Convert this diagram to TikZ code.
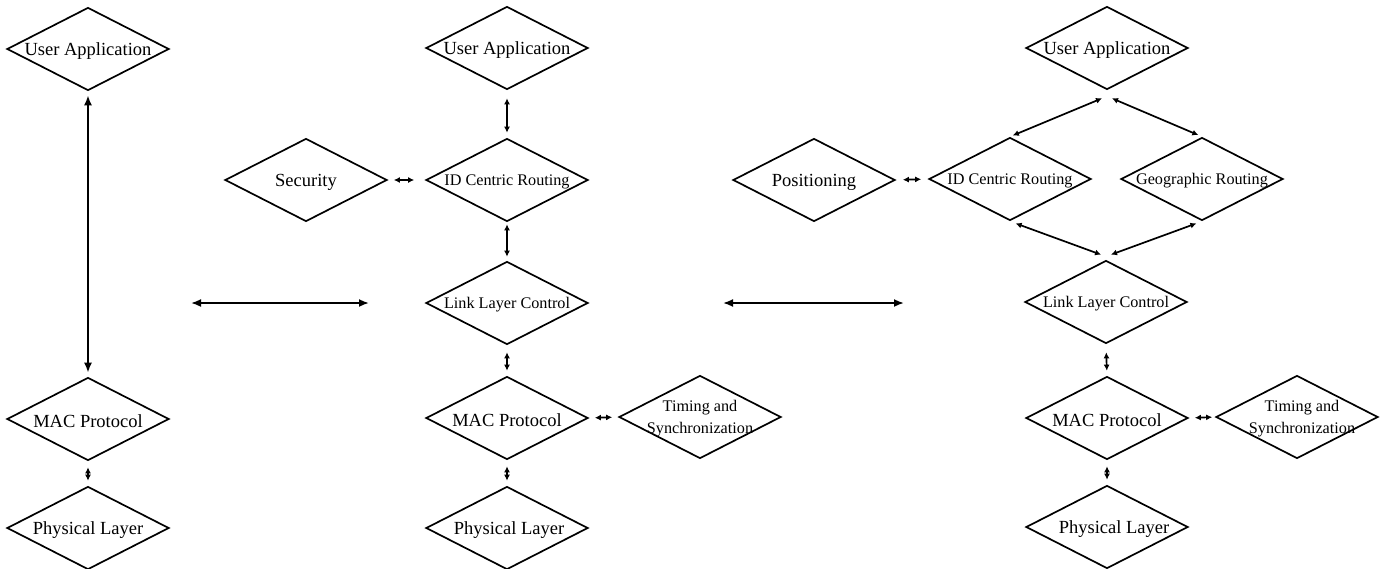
\documentclass[tikz,border=0pt]{standalone}
\usepackage{fontspec}
\setmainfont{Liberation Serif}
\usetikzlibrary{shapes.geometric,arrows.meta}
\begin{document}
\begin{tikzpicture}[x=1pt,y=-1pt,
  dia/.style={draw,shape=diamond,line width=1.7pt,minimum width=162pt,minimum height=83pt,inner sep=0pt},
  big/.style={font=\fontsize{18.5}{22}\selectfont,inner sep=0pt,yshift=-2pt},
  small/.style={font=\fontsize{16.2}{22}\selectfont,inner sep=0pt,align=center,yshift=-2pt},
  conn/.style={line width=1.7pt,{Latex[length=6pt,width=6pt]}-{Latex[length=6pt,width=6pt]}},
  wide/.style={line width=1.8pt,{Latex[length=10pt,width=8pt]}-{Latex[length=10pt,width=8pt]}}]
\useasboundingbox (0,0) rectangle (1386,568);

% Column 1
\node[dia] (ua1) at (88,49) {};
\node[big] (ua1t) at (ua1) {User Application};
\node[dia] (mac1) at (88,419) {};
\node[big] (mac1t) at (mac1) {MAC Protocol};
\node[dia] (phy1) at (88,528) {};
\node[big] (phy1t) at (phy1) {Physical Layer};

% Column 2
\node[dia] (ua2) at (507,48) {};
\node[big] (ua2t) at (ua2) {User Application};
\node[dia] (sec) at (306,180) {};
\node[big] (sect) at (sec) {Security};
\node[dia] (id2) at (507,180) {};
\node[small] (id2t) at (id2) {ID Centric Routing};
\node[dia] (llc2) at (507,303) {};
\node[small] (llc2t) at (llc2) {Link Layer Control};
\node[dia] (mac2) at (507,418) {};
\node[big] (mac2t) at (mac2) {MAC Protocol};
\node[dia] (tim2) at (700,417) {};
\node[small] (tim2t) at (tim2) {Timing and\\Synchronization};
\node[dia] (phy2) at (507,528) {};
\node[big] (phy2t) at ([xshift=2pt]phy2.center) {Physical Layer};

% Column 3
\node[dia] (ua3) at (1107,48) {};
\node[big] (ua3t) at (ua3) {User Application};
\node[dia] (pos) at (814,180) {};
\node[big] (post) at (pos) {Positioning};
\node[dia] (id3) at (1010,179) {};
\node[small] (id3t) at (id3) {ID Centric Routing};
\node[dia] (geo) at (1202,179) {};
\node[small] (geot) at (geo) {Geographic Routing};
\node[dia] (llc3) at (1106,302) {};
\node[small] (llc3t) at (llc3) {Link Layer Control};
\node[dia] (mac3) at (1107,418) {};
\node[big] (mac3t) at (mac3) {MAC Protocol};
\node[dia] (tim3) at (1297,417) {};
\node[small] (tim3t) at ([xshift=5pt]tim3.center) {Timing and\\Synchronization};
\node[dia] (phy3) at (1107,527) {};
\node[big] (phy3t) at ([xshift=7pt]phy3.center) {Physical Layer};

% free horizontal arrows
\coordinate (h1l) at (191,303);
\coordinate (h1r) at (369,303);
\coordinate (h2l) at (723,303);
\coordinate (h2r) at (904,303);
\draw[wide] (h1l) -- (h1r);
\draw[wide] (h2l) -- (h2r);

% Column 1 connectors
\draw[wide,shorten <=4pt,shorten >=4pt] (ua1.south) -- (mac1.north);
\draw[conn,shorten <=6pt,shorten >=5pt] (mac1.south) -- (phy1.north);

% Column 2 connectors
\draw[conn,shorten <=8pt,shorten >=5pt] (ua2.south) -- (id2.north);
\draw[conn,shorten <=6pt,shorten >=11pt] (sec.east) -- (id2.west);
\draw[conn,shorten <=2pt,shorten >=4pt] (id2.south) -- (llc2.north);
\draw[conn,shorten <=7pt,shorten >=5pt] (llc2.south) -- (mac2.north);
\draw[conn,shorten <=6pt,shorten >=6pt] (mac2.east) -- (tim2.west);
\draw[conn,shorten <=6pt,shorten >=5pt] (mac2.south) -- (phy2.north);

% Column 3 connectors
\draw[conn,shorten >=3pt] ([xshift=-5pt,yshift=-8pt]ua3.south) -- (id3.north);
\draw[conn,shorten >=4pt] ([xshift=5pt,yshift=-8pt]ua3.south) -- (geo.north);
\draw[conn,shorten <=6pt] (id3.south) -- ([xshift=-5pt,yshift=5pt]llc3.north);
\draw[conn,shorten <=6pt] (geo.south) -- ([xshift=5pt,yshift=5pt]llc3.north);
\draw[conn,shorten <=7pt,shorten >=7pt] (pos.east) -- (id3.west);
\draw[conn,shorten <=8pt,shorten >=5pt] (llc3.south) -- (mac3.north);
\draw[conn,shorten <=6pt,shorten >=3pt] (mac3.east) -- (tim3.west);
\draw[conn,shorten <=6pt,shorten >=5pt] (mac3.south) -- (phy3.north);
\end{tikzpicture}
\end{document}
